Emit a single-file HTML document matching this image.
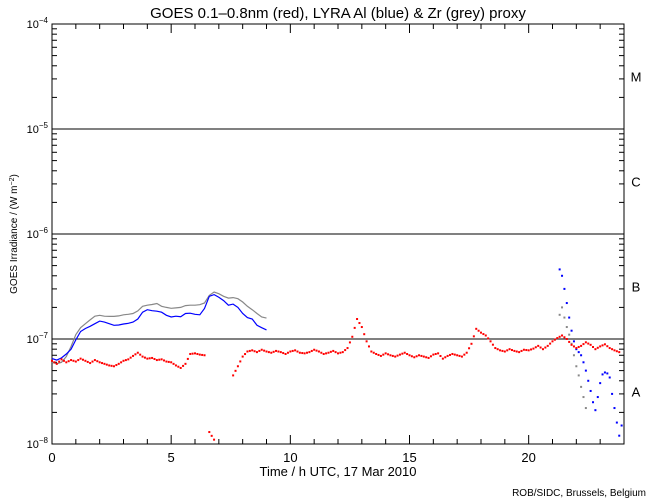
<!DOCTYPE html>
<html><head><meta charset="utf-8"><style>
html,body{margin:0;padding:0;background:#fff;width:650px;height:500px;overflow:hidden}
svg{display:block;font-family:"Liberation Sans",sans-serif}
</style></head><body>
<svg id="chart" width="650" height="500" viewBox="0 0 650 500">
<rect x="0" y="0" width="650" height="500" fill="#fff"/>
<text x="338" y="18" font-size="15" text-anchor="middle">GOES 0.1–0.8nm (red), LYRA Al (blue) &amp; Zr (grey) proxy</text>
<text x="338" y="476" font-size="13" text-anchor="middle">Time / h UTC, 17 Mar 2010</text>
<text x="646" y="496" font-size="10" text-anchor="end">ROB/SIDC, Brussels, Belgium</text>
<text transform="translate(17,234) rotate(-90)" font-size="10" text-anchor="middle">GOES Irradiance / (W m<tspan baseline-shift="super" font-size="7">−2</tspan>)</text>
<g id="axes"></g><g id="marks"></g>
</svg>
<script>
// Data (values in units of 1e-8 W m^-2)
const redValues=[6.2,5.8,6.4,6.0,6.3,6.1,6.5,6.2,5.9,6.3,6.0,5.8,5.6,5.5,5.8,6.2,6.4,6.9,7.4,6.8,6.5,6.6,6.3,6.4,6.1,6.0,5.6,5.3,5.8,7.2,7.3,7.1,7.0,1.3,1.1,null,null,null,4.5,5.5,6.8,7.6,7.8,7.5,7.9,7.6,7.4,7.7,7.5,7.2,7.6,7.8,7.4,7.3,7.5,7.9,7.6,7.2,7.4,7.7,7.3,7.5,8.2,10.5,15.5,13.0,9.5,7.6,7.2,6.9,7.3,7.0,6.8,7.1,7.4,7.0,6.7,7.0,6.8,6.6,7.1,7.3,6.5,6.9,7.2,7.0,6.8,7.4,9.0,12.5,11.5,10.8,9.5,8.2,7.8,7.6,8.0,7.7,7.5,7.9,7.8,8.1,8.6,8.0,8.6,9.5,10.2,10.8,10.0,8.8,8.2,8.6,9.3,8.8,8.0,8.5,8.9,8.2,7.8,7.5];
const blueValues=[6.5,6.3,6.6,7.2,8.0,9.8,11.8,12.6,13.2,14.0,14.8,14.5,14.0,13.5,13.6,13.9,14.1,14.5,15.5,18.0,19.0,18.6,18.4,18.0,16.8,16.2,16.5,16.3,17.5,17.6,17.2,17.0,19.5,25.5,26.5,25.0,23.2,21.0,21.5,20.0,17.5,16.0,15.5,13.5,12.8,12.2];
const greyValues=[6.0,5.8,6.0,6.8,8.5,11.0,12.8,14.0,15.2,16.5,16.8,16.5,16.4,16.4,16.6,17.0,17.2,17.5,18.5,20.5,21.0,21.3,21.8,20.5,20.0,19.6,19.8,20.0,20.8,21.0,21.0,21.2,22.0,26.0,28.0,27.0,25.5,24.5,24.8,24.2,22.5,20.5,19.0,17.5,16.2,15.8];
const blueLateTimes=[21.3,21.4,21.5,21.6,21.7,21.8,21.9,22.0,22.1,22.2,22.3,22.4,22.5,22.6,22.7,22.8,22.9,23.0,23.1,23.2,23.3,23.4,23.5,23.6,23.7,23.8,23.9];
const blueLateValues=[46,40,30,22,16,12,9.5,8.0,7.5,7.0,6.0,5.0,4.0,3.2,2.5,2.1,2.8,3.8,4.6,4.8,4.7,4.3,3.0,2.2,1.6,1.2,1.5];
const greyLateTimes=[21.3,21.4,21.5,21.6,21.7,21.8,21.9,22.0,22.1,22.2,22.3,22.4];
const greyLateValues=[17,20,16,13,11,9,7,5.5,4.5,3.5,2.8,2.2];
const xTickLabels=[0,5,10,15,20];
const yDecades=[-8,-7,-6,-5,-4];
const classLabels=["A","B","C","M"];

const L=52,R=624,T=24,B=444,NS="http://www.w3.org/2000/svg";
const xs=h=>L+(R-L)*h/24;
const ys=v=>B-Math.log10(v)*(B-T)/4;
const axes=document.getElementById('axes'),marks=document.getElementById('marks');
function mk(tag,at,parent){const e=document.createElementNS(NS,tag);for(const k in at)e.setAttribute(k,at[k]);parent.appendChild(e);return e;}

const frame=mk('rect',{x:L,y:T,width:R-L,height:B-T,fill:'none',stroke:'#000','stroke-width':1},axes);


for(let h=0;h<=24;h++){
  const len=h%5===0?9:5;
  const t1=mk('line',{x1:xs(h),x2:xs(h),y1:B,y2:B-len,stroke:'#000'},axes);
  
  
  const t2=mk('line',{x1:xs(h),x2:xs(h),y1:T,y2:T+len,stroke:'#000'},axes);
  
  
}
xTickLabels.forEach(h=>{
  const t=mk('text',{x:xs(h),y:462,'font-size':13,'text-anchor':'middle'},axes);t.textContent=h;
  
  
});
yDecades.forEach((d,i)=>{
  const y=ys(Math.pow(10,d+8));
  const t=mk('text',{x:48,y:y+4,'font-size':11,'text-anchor':'end'},axes);
  t.textContent='10';
  const s=mk('tspan',{'font-size':8,dy:-5},t);s.textContent='−'+(-d);
  
  
  if(d>-8&&d<-4){
    const g=mk('line',{x1:L,x2:R,y1:y,y2:y,stroke:'#000'},axes);
    
    
  }
  if(d<-4){
    for(let m=2;m<=9;m++){
      const yy=ys(m*Math.pow(10,d+8));
      const a=mk('line',{x1:L,x2:L+5,y1:yy,y2:yy,stroke:'#000'},axes);
      
      
      const b=mk('line',{x1:R-5,x2:R,y1:yy,y2:yy,stroke:'#000'},axes);
      
      
    }
    const lab=mk('text',{x:636,y:ys(Math.pow(10,d+8.5))+5,'font-size':13,'text-anchor':'middle'},axes);
    lab.textContent=classLabels[i];
    
    
  }
});
function dots(times,vals,color,name){
  vals.forEach((v,i)=>{
    if(v==null)return;
    const r=mk('rect',{x:xs(times(i))-1,y:ys(v)-1,width:2,height:2,fill:color},marks);
    
    
  });
}
function line(times,vals,color,name){
  const pts=vals.map((v,i)=>xs(times(i)).toFixed(1)+','+ys(v).toFixed(1)).join(' ');
  const p=mk('polyline',{points:pts,fill:'none',stroke:color,'stroke-width':1.2},marks);
  
  
}
line(i=>i*0.2,greyValues,'#888','zr-proxy-line');
line(i=>i*0.2,blueValues,'#0000ff','al-proxy-line');
dots(i=>greyLateTimes[i],greyLateValues,'#888','zr-proxy-point');
dots(i=>blueLateTimes[i],blueLateValues,'#0000ff','al-proxy-point');
dots(i=>i*0.2,redValues,'#ff0000','goes-point');
dots(i=>i*0.2+0.1,redValues.map((v,i)=>{const n=redValues[i+1];if(v==null||n==null||n/v>2||v/n>2)return null;return Math.sqrt(v*n);}),'#ff0000','goes-point');
</script>
</body></html>
